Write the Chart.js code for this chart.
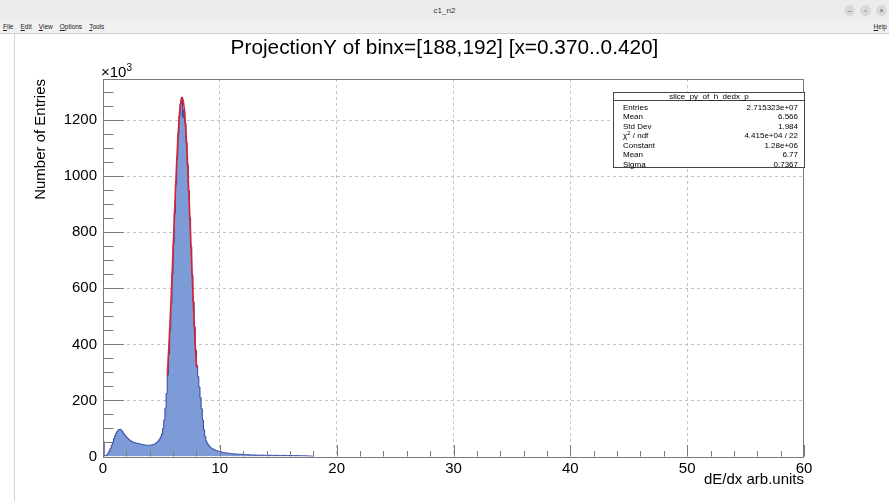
<!DOCTYPE html>
<html>
<head>
<meta charset="utf-8">
<script src="https://cdn.jsdelivr.net/npm/chart.js@4.4.1/dist/chart.umd.min.js"></script>
<style>
html,body{margin:0;padding:0;background:#fff;width:889px;height:501px;overflow:hidden;font-family:"Liberation Sans",Arial,Helvetica,sans-serif;}
#wrap{position:relative;width:889px;height:501px;}
#c{position:absolute;left:0;top:0;}
#titlebar{position:absolute;left:0;top:0;width:889px;height:21px;background:#ececec;color:#333;font-size:8px;line-height:21px;text-align:center;}
#winbtns{position:absolute;right:2px;top:5px;display:flex;gap:5px;}
#winbtns span{display:block;width:11px;height:11px;border-radius:50%;background:#d9d9d9;color:#555;font-size:7px;line-height:11px;text-align:center;}
#menubar{position:absolute;left:0;top:21px;width:889px;height:12px;background:#f0f0f0;border-bottom:1px solid #d0d0d0;font-size:6.5px;line-height:12px;color:#222;}
#menubar .l{position:absolute;left:3px;display:flex;gap:7px;}
#menubar .r{position:absolute;right:2px;}
#menubar u{text-decoration:underline;}
#leftline{position:absolute;left:14px;top:34px;width:1px;height:467px;background:#d4d4d4;}
#mult{position:absolute;left:101px;top:63px;font-size:15px;color:#000;line-height:18px;white-space:nowrap;}
#mult sup{font-size:10px;vertical-align:6px;line-height:0;}
#stats{position:absolute;left:613px;top:92px;width:192px;height:76px;box-sizing:border-box;border:1px solid #444;background:#fff;font-size:8px;color:#000;}
#stats .hdr{height:7px;line-height:8px;text-align:center;border-bottom:1px solid #444;}
#stats .rows{padding-top:1.5px;}
#stats .row{display:flex;justify-content:space-between;height:9.5px;line-height:9.5px;padding:0 6px 0 9px;}
#stats sup{font-size:6px;vertical-align:3px;line-height:0;}
</style>
</head>
<body>
<div id="wrap">
  <canvas id="c" width="889" height="501"></canvas>
  <div id="titlebar">c1_n2<div id="winbtns"><span>&#8211;</span><span>&#9643;</span><span>&#215;</span></div></div>
  <div id="menubar"><div class="l"><span><u>F</u>ile</span><span><u>E</u>dit</span><span><u>V</u>iew</span><span><u>O</u>ptions</span><span><u>T</u>ools</span></div><div class="r"><u>H</u>elp</div></div>
  <div id="leftline"></div>
  <div id="mult">&#215;10<sup>3</sup></div>
  <div id="stats"></div>
</div>
<script>
// ---------------- DATA ----------------
const chartTitle = 'ProjectionY of binx=[188,192] [x=0.370..0.420]';
const xAxisTitle = 'dE/dx arb.units';
const yAxisTitle = 'Number of Entries';
const binWidth = 0.1;            // histogram bin width (dE/dx units)
// entries per bin (x10^3), bins start at 0.0 and step by binWidth
const binEntries = [
  53, 2, 3, 6, 12, 20, 29, 40, 52, 64,                 // 0.0 - 0.9
  75, 84, 91, 96, 97, 95, 90, 84, 78, 73,              // 1.0 - 1.9
  68, 64, 60, 57, 54, 52, 50, 49, 48, 47,              // 2.0 - 2.9
  46, 45, 44, 43, 42, 41, 41, 40, 40, 40,              // 3.0 - 3.9
  40, 41, 42, 43, 45, 48, 51, 56, 62, 70,              // 4.0 - 4.9
  80, 100, 130, 172, 225, 290, 365, 450, 545, 650,     // 5.0 - 5.9
  760, 868, 970, 1065, 1150, 1215, 1258, 1282, 1210, 1238, // 6.0 - 6.9
  1188, 1120, 1040, 948, 850, 748, 648, 552, 462, 380, // 7.0 - 7.9
  325, 285, 248, 210, 170, 130, 95, 72, 55, 46,        // 8.0 - 8.9
  40, 35, 31, 28, 26, 24, 22, 21, 19, 18,              // 9.0 - 9.9
  17, 16, 15, 14, 13, 12.5, 12, 11.5, 11, 10.5,        // 10.0 - 10.9
  10, 9.5, 9, 9, 8.5, 8.5, 8, 8, 7.5, 7.5,             // 11.0 - 11.9
  7, 7, 6.5, 6.5, 6, 6, 6, 5.5, 5.5, 5.5,              // 12.0 - 12.9
  5, 5, 5, 4.8, 4.8, 4.6, 4.6, 4.5, 4.5, 4.4,          // 13.0 - 13.9
  4.4, 4.3, 4.3, 4.2, 4.2, 4.1, 4.1, 4, 4, 4,          // 14.0 - 14.9
  3.9, 3.9, 3.8, 3.8, 3.7, 3.7, 3.6, 3.6, 3.5, 3.5,    // 15.0 - 15.9
  3.4, 3.4, 3.3, 3.3, 3.2, 3.1, 3, 3, 2.9, 2.8,        // 16.0 - 16.9
  2.7, 2.6, 2.5, 2.3, 2.2, 2, 1.8, 1.5, 1.2, 0.8       // 17.0 - 17.9
];
// Gaussian fit curve (x, entries x10^3)
const fitX = [5.5,5.6,5.7,5.8,5.9,6.0,6.1,6.2,6.3,6.4,6.5,6.6,6.7,6.8,6.9,7.0,7.1,7.2,7.3,7.4,7.5,7.6,7.7,7.8,7.9,8.0];
const fitY = [290,363,446,538,637,741,846,949,1044,1128,1197,1246,1274,1279,1260,1219,1158,1080,988,888,783,679,577,482,395,318];
const xTickLabels = ['0','10','20','30','40','50','60'];
const yTickLabels = ['0','200','400','600','800','1000','1200'];
const statLabels = ['Entries','Mean','Std Dev','&chi;<sup>2</sup> / ndf','Constant','Mean','Sigma'];
const statValues = ['2.715323e+07','6.566','1.984','4.415e+04 / 22','1.28e+06','6.77','0.7367'];
const statTitle = 'slice_py_of_h_dedx_p';
// --------------------------------------

// stats box
(function(){
  const box = document.getElementById('stats');
  let html = '<div class="hdr">' + statTitle + '</div><div class="rows">';
  for (let i = 0; i < statLabels.length; i++) {
    html += '<div class="row"><span>' + statLabels[i] + '</span><span>' + statValues[i] + '</span></div>';
  }
  html += '</div>';
  box.innerHTML = html;
})();

const FONT = '"Liberation Sans", Arial, Helvetica, sans-serif';

// histogram points (step "before": each point's y holds until next point)
const histPts = [{x: 0, y: 0}];
binEntries.forEach((v, i) => histPts.push({x: +(i * binWidth).toFixed(3), y: v}));
histPts.push({x: +(binEntries.length * binWidth).toFixed(3), y: 0});

const fitPts = fitX.map((x, i) => ({x: x, y: fitY[i]}));

const rootAxes = {
  id: 'rootAxes',
  afterDatasetsDraw(chart) {
    const {ctx, chartArea: a, scales: {x, y}} = chart;
    ctx.save();
    ctx.strokeStyle = '#7a7a7a';
    ctx.lineWidth = 1;
    // frame
    ctx.strokeRect(Math.round(a.left) + 0.5, Math.round(a.top) + 0.5, Math.round(a.right - a.left) - 1, Math.round(a.bottom) - Math.round(a.top));
    ctx.beginPath();
    // y ticks (inside)
    for (let v = 0; v <= y.max; v += 50) {
      const py = Math.round(y.getPixelForValue(v)) + 0.5;
      const len = (v % 200 === 0) ? 21 : 10.5;
      ctx.moveTo(a.left, py); ctx.lineTo(a.left + len, py);
    }
    // x ticks (inside)
    for (let v = 0; v <= x.max; v += 2) {
      const px = Math.round(x.getPixelForValue(v)) + 0.5;
      const len = (v % 10 === 0) ? 11.5 : 5.5;
      ctx.moveTo(px, a.bottom); ctx.lineTo(px, a.bottom - len);
    }
    ctx.stroke();
    ctx.restore();
  }
};

new Chart(document.getElementById('c'), {
  type: 'line',
  data: {
    datasets: [
      {
        data: fitPts,
        borderColor: 'rgba(225,30,40,0.95)',
        borderWidth: 1.6,
        pointRadius: 0,
        fill: false,
        cubicInterpolationMode: 'monotone',
        order: 0
      },
      {
        data: histPts,
        stepped: 'before',
        borderColor: '#3444a6',
        borderWidth: 1,
        backgroundColor: '#7d9bd6',
        fill: 'origin',
        pointRadius: 0,
        order: 1
      }
    ]
  },
  options: {
    responsive: false,
    animation: false,
    events: [],
    layout: { padding: { left: 0, right: 0, top: 0, bottom: 0 } },
    plugins: {
      legend: { display: false },
      tooltip: { enabled: false },
      title: {
        display: true,
        text: chartTitle,
        color: '#000',
        font: { family: FONT, size: 20.8, weight: 'normal', lineHeight: 1.2 },
        padding: { top: 35.5, bottom: 18.5 }
      }
    },
    scales: {
      x: {
        type: 'linear',
        min: 0, max: 60,
        afterFit(s) { s.height = 44.5; },
        ticks: {
          stepSize: 10, maxRotation: 0, autoSkip: false, padding: 3,
          color: '#000', font: { family: FONT, size: 15 },
          callback: (v) => { const i = xTickLabels.indexOf(String(v)); return i >= 0 ? xTickLabels[i] : ''; }
        },
        grid: {
          drawTicks: false,
          color: (c) => (c.tick && (c.tick.value === 0 || c.tick.value === 60)) ? 'rgba(0,0,0,0)' : '#c4c4c4',
          lineWidth: 1
        },
        border: { display: false, dash: [3, 3] },
        title: {
          display: true, text: xAxisTitle, align: 'end', color: '#000',
          font: { family: FONT, size: 15 }, padding: { top: 0, bottom: 12.4 }
        }
      },
      y: {
        min: 0, max: 1347,
        afterFit(s) { s.width = 103; },
        ticks: {
          stepSize: 200, includeBounds: false, padding: 6,
          color: '#000', font: { family: FONT, size: 15 },
          callback: (v) => { const i = yTickLabels.indexOf(String(v)); return i >= 0 ? yTickLabels[i] : ''; }
        },
        grid: {
          drawTicks: false,
          color: (c) => (c.tick && c.tick.value === 0) ? 'rgba(0,0,0,0)' : '#c4c4c4',
          lineWidth: 1
        },
        border: { display: false, dash: [3, 3] },
        title: {
          display: true, text: yAxisTitle, align: 'end', color: '#000',
          font: { family: FONT, size: 15 }, padding: { top: 32, bottom: 0 }
        }
      },
      yRight: {
        type: 'linear',
        position: 'right',
        min: 0, max: 1,
        afterFit(s) { s.width = 85; },
        ticks: { display: false },
        grid: { display: false, drawTicks: false },
        border: { display: false }
      }
    }
  },
  plugins: [rootAxes]
});
</script>
</body>
</html>
